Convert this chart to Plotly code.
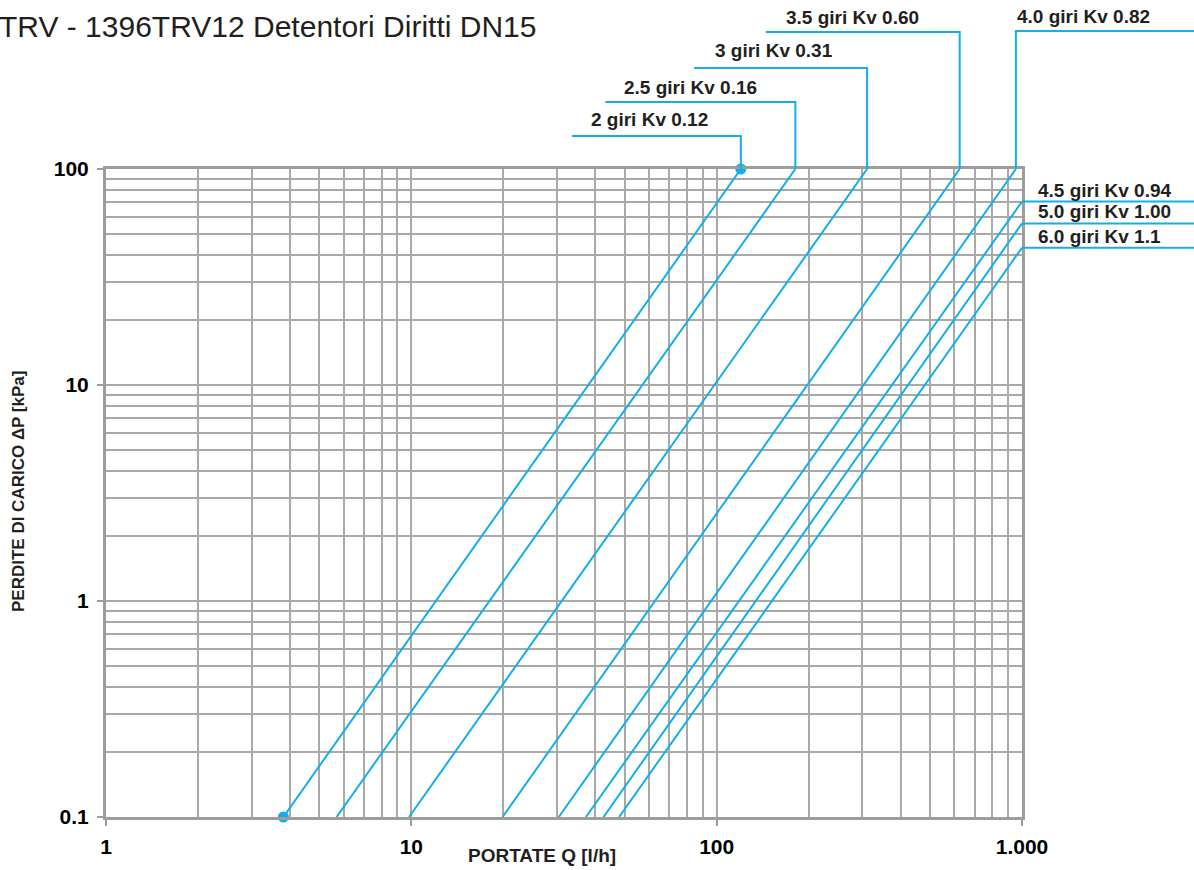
import numpy as np
import plotly.graph_objects as go

# ---------------- data ----------------
series_labels = ["2 giri Kv 0.12", "2.5 giri Kv 0.16", "3 giri Kv 0.31", "3.5 giri Kv 0.60",
                 "4.0 giri Kv 0.82", "4.5 giri Kv 0.94", "5.0 giri Kv 1.00", "6.0 giri Kv 1.1"]
q_start = [3.81, 5.69, 9.83, 19.9, 30.4, 37.3, 42.6, 47.9]          # l/h at start
dp_start = [0.1, 0.1, 0.1, 0.1, 0.1, 0.1, 0.1, 0.1]                # kPa at start
q_end = [120, 181, 311, 625, 955, 1000, 1000, 1000]                # l/h at end
dp_end = [100, 100, 100, 100, 100, 70.7, 56.0, 43.2]               # kPa at end

marker_q = [3.81, 120]
marker_dp = [0.1, 100]

x_tick_vals = [1, 10, 100, 1000]
x_tick_text = ["1", "10", "100", "1.000"]
y_tick_vals = [0.1, 1, 10, 100]
y_tick_text = ["0.1", "1", "10", "100"]

title_text = "TRV - 1396TRV12 Detentori Diritti DN15"
x_title = "PORTATE Q [l/h]"
y_title = "PERDITE DI CARICO ΔP [kPa]"

# ---------------- styling ----------------
BLUE = "#14aee8"
GRID = "#a9a9a9"
FRAME = "#9d9d9d"
TXT = "#231f20"
FONT = "Liberation Sans, Arial, Helvetica, sans-serif"

# leader geometry (pixels): height above plot top, width to the left, label dx, label dy
top_leaders = [(33, 169, -152, 50), (67, 190, -173, 82), (101, 173, -154, 119), (137, 194, -176, 152)]
top_right_leader = (138, -1, 152.5)
right_label_dx = 14
right_label_dy = 11.5

x_minor = [m * 10 ** k for k in range(0, 3) for m in range(2, 10)]
y_minor = [m * 10.0 ** k for k in range(-1, 2) for m in range(2, 10)]

fig = go.Figure()
for name, qs, ds, qe, de in zip(series_labels, q_start, dp_start, q_end, dp_end):
    fig.add_trace(go.Scatter(x=[qs, qe], y=[ds, de], mode="lines", name=name,
                             line=dict(color=BLUE, width=2), showlegend=False, hoverinfo="skip"))
fig.add_trace(go.Scatter(x=marker_q, y=marker_dp, mode="markers", cliponaxis=False,
                         marker=dict(color=BLUE, size=11), showlegend=False, hoverinfo="skip"))

shapes = []
annotations = []
lab_font = dict(family=FONT, size=19, color=TXT)

# leaders for series ending on the top edge, going left
for i, (h, w, ldx, ldy) in enumerate(top_leaders):
    shapes.append(dict(type="path", xref="x", xsizemode="pixel", xanchor=q_end[i],
                       yref="paper", ysizemode="pixel", yanchor=1,
                       path=f"M0,0 L0,{h} L{-w},{h}", line=dict(color=BLUE, width=2)))
    annotations.append(dict(xref="x", x=np.log10(q_end[i]), xanchor="left", xshift=ldx,
                            yref="paper", y=1, yanchor="middle", yshift=ldy,
                            text=f"<b>{series_labels[i]}</b>", showarrow=False, font=lab_font))

# leader for series 5 (top edge, going right out of the plot)
h5, ldx5, ldy5 = top_right_leader
shapes.append(dict(type="path", xref="x", xsizemode="pixel", xanchor=q_end[4],
                   yref="paper", ysizemode="pixel", yanchor=1,
                   path=f"M0,0 L0,{h5} L200,{h5}", line=dict(color=BLUE, width=2)))
shapes.append(dict(type="line", xref="paper", xsizemode="pixel", xanchor=1, x0=0, x1=180,
                   yref="paper", ysizemode="pixel", yanchor=1, y0=h5, y1=h5,
                   line=dict(color=BLUE, width=2)))
annotations.append(dict(xref="x", x=np.log10(q_end[4]), xanchor="left", xshift=ldx5,
                        yref="paper", y=1, yanchor="middle", yshift=ldy5,
                        text=f"<b>{series_labels[4]}</b>", showarrow=False, font=lab_font))

# leaders for series ending on the right edge
for i in range(5, 8):
    shapes.append(dict(type="line", xref="paper", xsizemode="pixel", xanchor=1, x0=0, x1=180,
                       yref="y", y0=dp_end[i], y1=dp_end[i], line=dict(color=BLUE, width=2)))
    annotations.append(dict(xref="paper", x=1, xanchor="left", xshift=right_label_dx,
                            yref="y", y=np.log10(dp_end[i]), yanchor="middle", yshift=right_label_dy,
                            text=f"<b>{series_labels[i]}</b>", showarrow=False, font=lab_font))

# title and axis titles
annotations.append(dict(xref="paper", x=0, xanchor="left", xshift=-109,
                        yref="paper", y=1, yanchor="middle", yshift=143,
                        text=title_text, showarrow=False,
                        font=dict(family=FONT, size=30, color=TXT)))
annotations.append(dict(xref="paper", x=0.5, xanchor="center", xshift=-22,
                        yref="paper", y=0, yanchor="middle", yshift=-38,
                        text=f"<b>{x_title}</b>", showarrow=False,
                        font=dict(family=FONT, size=19, color=TXT)))
annotations.append(dict(xref="paper", x=0, xanchor="center", xshift=-88,
                        yref="paper", y=0.5, yanchor="middle", yshift=1, textangle=-90,
                        text=f"<b>{y_title}</b>", showarrow=False,
                        font=dict(family=FONT, size=17, color=TXT)))

axis_common = dict(type="log", showgrid=True, gridcolor=GRID, gridwidth=1.5,
                   showline=True, linecolor=FRAME, linewidth=3, mirror=True,
                   ticks="outside", ticklen=6, tickwidth=2, tickcolor=FRAME,
                   tickmode="array", zeroline=False,
                   tickfont=dict(family=FONT, size=21, color="#000000", weight="bold"))

fig.update_layout(
    width=1194, height=870, autosize=False,
    margin=dict(l=106, r=172, t=169, b=49, pad=0),
    paper_bgcolor="white", plot_bgcolor="white",
    showlegend=False,
    xaxis=dict(range=[0, 3], tickvals=x_tick_vals, ticktext=x_tick_text, ticklabelstandoff=3,
               minor=dict(tickmode="array", tickvals=x_minor, showgrid=True, gridcolor=GRID,
                          gridwidth=1.5, ticks=""),
               **axis_common),
    yaxis=dict(range=[-1, 2], tickvals=y_tick_vals, ticktext=y_tick_text, ticklabelstandoff=4,
               minor=dict(tickmode="array", tickvals=y_minor, showgrid=True, gridcolor=GRID,
                          gridwidth=1.5, ticks=""),
               **axis_common),
    shapes=shapes,
    annotations=annotations,
)

fig.write_html("out.html", config={"displayModeBar": False},
               post_script="document.body.style.margin='0px';")
